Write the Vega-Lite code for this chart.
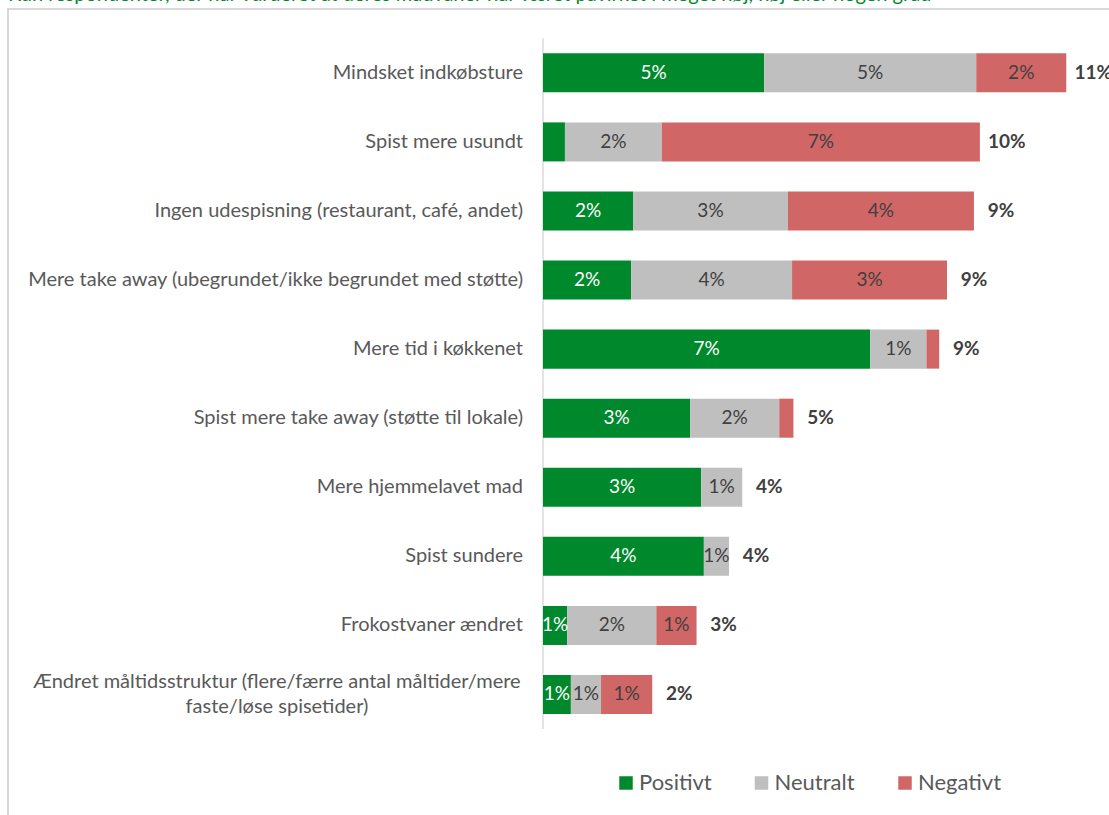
{
  "$schema": "https://vega.github.io/schema/vega-lite/v6.json",
  "autosize": {"type": "none"},
  "padding": {"left": 8, "top": 9, "right": -2, "bottom": -2},
  "width": 1103,
  "height": 808,
  "background": "white",
  "config": {"view": {"stroke": "#d9d9d9", "strokeWidth": 2}, "font": "Lato"},
  "title": {"text": "Kun respondenter, der har vurderet at deres madvaner har været påvirket i meget høj, høj eller nogen grad", "anchor": "start", "frame": "group", "offset": 0, "dy": 12, "baseline": "alphabetic", "color": "#00892c", "fontSize": 20, "fontWeight": "normal", "font": "Lato"},
  "data": {"values": [
    {"category": "Mindsket indkøbsture", "type": "Positivt", "ord": 1, "value": 0.0484},
    {"category": "Mindsket indkøbsture", "type": "Neutralt", "ord": 2, "value": 0.0464},
    {"category": "Mindsket indkøbsture", "type": "Negativt", "ord": 3, "value": 0.0197},
    {"category": "Spist mere usundt", "type": "Positivt", "ord": 1, "value": 0.0048},
    {"category": "Spist mere usundt", "type": "Neutralt", "ord": 2, "value": 0.0212},
    {"category": "Spist mere usundt", "type": "Negativt", "ord": 3, "value": 0.0696},
    {"category": "Ingen udespisning (restaurant, café, andet)", "type": "Positivt", "ord": 1, "value": 0.0197},
    {"category": "Ingen udespisning (restaurant, café, andet)", "type": "Neutralt", "ord": 2, "value": 0.0339},
    {"category": "Ingen udespisning (restaurant, café, andet)", "type": "Negativt", "ord": 3, "value": 0.0407},
    {"category": "Mere take away (ubegrundet/ikke begrundet med støtte)", "type": "Positivt", "ord": 1, "value": 0.0193},
    {"category": "Mere take away (ubegrundet/ikke begrundet med støtte)", "type": "Neutralt", "ord": 2, "value": 0.0352},
    {"category": "Mere take away (ubegrundet/ikke begrundet med støtte)", "type": "Negativt", "ord": 3, "value": 0.0339},
    {"category": "Mere tid i køkkenet", "type": "Positivt", "ord": 1, "value": 0.0716},
    {"category": "Mere tid i køkkenet", "type": "Neutralt", "ord": 2, "value": 0.0123},
    {"category": "Mere tid i køkkenet", "type": "Negativt", "ord": 3, "value": 0.0028},
    {"category": "Spist mere take away (støtte til lokale)", "type": "Positivt", "ord": 1, "value": 0.0322},
    {"category": "Spist mere take away (støtte til lokale)", "type": "Neutralt", "ord": 2, "value": 0.0195},
    {"category": "Spist mere take away (støtte til lokale)", "type": "Negativt", "ord": 3, "value": 0.0031},
    {"category": "Mere hjemmelavet mad", "type": "Positivt", "ord": 1, "value": 0.0346},
    {"category": "Mere hjemmelavet mad", "type": "Neutralt", "ord": 2, "value": 0.0090},
    {"category": "Spist sundere", "type": "Positivt", "ord": 1, "value": 0.0352},
    {"category": "Spist sundere", "type": "Neutralt", "ord": 2, "value": 0.0055},
    {"category": "Frokostvaner ændret", "type": "Positivt", "ord": 1, "value": 0.0053},
    {"category": "Frokostvaner ændret", "type": "Neutralt", "ord": 2, "value": 0.0195},
    {"category": "Frokostvaner ændret", "type": "Negativt", "ord": 3, "value": 0.0088},
    {"category": "Ændret måltidsstruktur (flere/færre antal måltider/mere\nfaste/løse spisetider)", "type": "Positivt", "ord": 1, "value": 0.0061},
    {"category": "Ændret måltidsstruktur (flere/færre antal måltider/mere\nfaste/løse spisetider)", "type": "Neutralt", "ord": 2, "value": 0.0066},
    {"category": "Ændret måltidsstruktur (flere/færre antal måltider/mere\nfaste/løse spisetider)", "type": "Negativt", "ord": 3, "value": 0.0112}
  ]},
  "encoding": {
    "y": {"field": "category", "type": "nominal", "sort": null, "axis": null,
          "scale": {"range": [29.3, 720], "paddingInner": 0.435, "paddingOuter": 0.2175, "align": 0.5}}
  },
  "layer": [
    {
      "transform": [{"filter": "datum.type === 'Positivt'"}],
      "mark": {"type": "tick", "color": "#d9d9d9", "thickness": 2, "size": 69.1, "orient": "vertical"},
      "encoding": {"x": {"datum": 0, "type": "quantitative", "axis": null, "scale": {"domain": [-0.11707, 0.12429], "nice": false, "zero": false}}}
    },
    {
      "mark": {"type": "bar"},
      "encoding": {
        "x": {"field": "value", "type": "quantitative", "stack": "zero", "axis": null, "scale": {"domain": [-0.11707, 0.12429], "nice": false, "zero": false}},
        "color": {"field": "type", "type": "nominal",
          "scale": {"domain": ["Positivt", "Neutralt", "Negativt"], "range": ["#00892c", "#bfbfbf", "#d16666"]},
          "legend": {"orient": "none", "legendX": 607, "legendY": 763, "direction": "horizontal", "title": null, "symbolType": "square", "symbolSize": 182, "symbolStrokeWidth": 0, "symbolOpacity": 1, "labelFontSize": 22, "labelColor": "#595959", "labelFont": "Lato", "columnPadding": 38.5, "labelOffset": 2, "padding": 0}},
        "order": {"field": "ord", "type": "quantitative"}
      }
    },
    {
      "transform": [
        {"stack": "value", "groupby": ["category"], "sort": [{"field": "ord", "order": "ascending"}], "as": ["x0", "x1"]},
        {"filter": "datum.value >= 0.005"},
        {"calculate": "(datum.x0 + datum.x1) / 2", "as": "mid"}
      ],
      "mark": {"type": "text", "fontSize": 19, "baseline": "middle", "align": "center"},
      "encoding": {
        "x": {"field": "mid", "type": "quantitative", "axis": null, "scale": {"domain": [-0.11707, 0.12429], "nice": false, "zero": false}},
        "text": {"field": "value", "type": "quantitative", "format": ".0%"},
        "color": {"condition": {"test": "datum.type === 'Positivt'", "value": "white"}, "value": "#404040"}
      }
    },
    {
      "transform": [{"aggregate": [{"op": "sum", "field": "value", "as": "total"}], "groupby": ["category"]}],
      "mark": {"type": "text", "fontSize": 19, "fontWeight": "bold", "baseline": "middle", "align": "center", "dx": 27, "color": "#404040"},
      "encoding": {
        "x": {"field": "total", "type": "quantitative", "axis": null, "scale": {"domain": [-0.11707, 0.12429], "nice": false, "zero": false}},
        "text": {"field": "total", "type": "quantitative", "format": ".0%"}
      }
    },
    {
      "transform": [{"filter": "datum.type === 'Positivt' && indexof(datum.category, '\\n') < 0"}],
      "mark": {"type": "text", "fontSize": 20, "baseline": "middle", "align": "right", "dx": -20, "color": "#595959"},
      "encoding": {
        "x": {"datum": 0, "type": "quantitative", "axis": null, "scale": {"domain": [-0.11707, 0.12429], "nice": false, "zero": false}},
        "text": {"field": "category", "type": "nominal"}
      }
    },
    {
      "transform": [{"filter": "datum.type === 'Positivt' && indexof(datum.category, '\\n') >= 0"}],
      "mark": {"type": "text", "fontSize": 20, "baseline": "middle", "align": "center", "dx": -266, "dy": -12.5, "lineBreak": "\n", "lineHeight": 25, "color": "#595959"},
      "encoding": {
        "x": {"datum": 0, "type": "quantitative", "axis": null, "scale": {"domain": [-0.11707, 0.12429], "nice": false, "zero": false}},
        "text": {"field": "category", "type": "nominal"}
      }
    }
  ]
}
